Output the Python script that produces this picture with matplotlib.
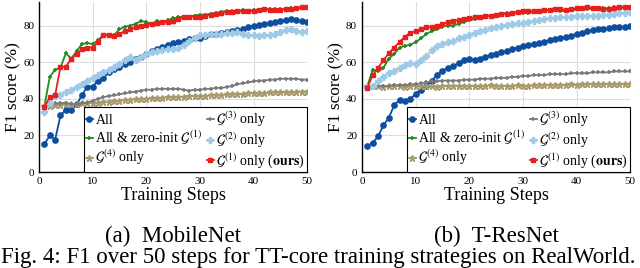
import matplotlib
matplotlib.use("Agg")
import matplotlib.pyplot as plt
import numpy as np

plt.rcParams['font.family'] = ['Liberation Serif', 'DejaVu Serif']
plt.rcParams['mathtext.fontset'] = 'stix'

steps = list(range(1, 51))

# MobileNet
mb_all = [15.2, 20, 17.7, 31, 34, 33.7, 37, 42, 46.7, 46.7, 50, 51.4, 54.5, 56.3, 57.2, 59, 60, 61.7, 63, 64.5,
          66, 67, 68.5, 69.5, 70.5, 71, 71.5, 72.5, 73, 73.5, 74.5, 75.5, 75.5, 76, 76.5, 77, 77.5, 78, 79, 80,
          80.5, 81, 81.5, 82, 82.5, 83, 83.5, 83, 82.5, 82]
mb_zero = [36, 52, 56, 57, 65, 62, 66, 70, 70.5, 70, 72, 75, 75, 75, 78, 79.5, 80, 81, 82.5, 82,
           81, 82.5, 82, 83, 84, 84.5, 85, 85, 85.5, 86, 86, 86.5, 87, 87.5, 88, 88, 88, 88.5, 88, 88.5,
           88.5, 89, 89, 89, 89, 89, 89.5, 89.5, 90, 90]
mb_g4 = [36, 36, 36.5, 36.5, 37, 37, 37, 37.5, 37.5, 38, 38, 38.5, 38.5, 39, 39, 39.5, 39.5, 40, 40, 40,
         40.5, 40.5, 40.5, 41, 41, 41, 41, 41.5, 41.5, 41.5, 41.5, 42, 42, 42, 42.5, 42.5, 42.5, 42.5, 43, 43,
         43, 43, 43.5, 43.5, 43.5, 43.5, 43.5, 44, 44, 44]
mb_g3 = [35.5, 37, 37.5, 37.5, 38, 37, 37, 37.5, 38, 39, 40, 41, 41.5, 42, 42.5, 43, 43.5, 44, 44.5, 45,
         45, 45.5, 45.5, 45.5, 45.5, 45.5, 45, 44.5, 45, 45, 45.5, 45.5, 46, 46, 46.5, 47, 48, 48.5, 49, 49.5,
         50, 50, 50.5, 50.5, 51, 51, 51, 51, 50.5, 50.5]
mb_g2 = [33, 38, 41.5, 42, 44, 45, 46.5, 48, 50, 51.5, 53, 54.5, 56, 57.5, 59, 61, 63, 61.5, 63, 64.5,
         65.5, 66, 66.5, 67, 67.5, 68, 69.5, 71.5, 73.5, 75, 75, 75.5, 75.5, 75.5, 76, 76, 76.5, 75.5, 75, 75,
         74.5, 75, 75, 75.5, 76.5, 77.5, 78, 77, 76.5, 77]
mb_g1 = [35.5, 41, 42, 57.5, 57.5, 62, 64.5, 67, 68, 68, 71, 75, 75, 74.5, 75.5, 77, 78, 79, 80, 80.5,
         81, 81.5, 82, 82, 82.5, 83.5, 84.5, 85, 85, 85, 85.5, 86, 86.5, 87, 87.5, 87.5, 88, 88, 88, 88,
         88.5, 89, 88.5, 88.5, 88.5, 89, 89, 89.5, 90, 90]

# T-ResNet
tr_all = [14.3, 16, 19.5, 25.5, 29.7, 36.4, 39.6, 39, 40, 42.7, 45, 47, 50, 53, 55.4, 57, 58, 59.4, 61, 61.7,
          61.5, 62, 63, 64, 64.5, 65.5, 66, 67, 68, 69, 69.5, 70, 70.5, 71, 72, 72.5, 73, 74, 74.5, 75.5,
          76, 77, 77.5, 78, 78, 78.5, 79, 79, 79.5, 80]
tr_zero = [47, 56, 55, 57, 62, 64.5, 68, 69, 69.5, 71, 73, 75.5, 77, 78, 79.5, 80, 80, 81, 82, 83,
           83.5, 84.5, 85, 85.5, 86, 86.5, 87, 87, 87, 87, 87, 87.5, 87.5, 88, 88.5, 88.5, 88, 88, 88.5, 89,
           89, 89, 89.5, 89.5, 89.5, 89.5, 90, 90, 90, 90]
tr_g4 = [47, 47, 47, 46.5, 47, 47, 47, 46.5, 47, 47, 47, 47, 47, 46.5, 47, 47, 47, 47, 47, 47,
         47, 47, 47, 47.5, 47, 47, 47, 47, 47.5, 47, 47, 47.5, 47.5, 47.5, 47.5, 47.5, 47.5, 47.5, 48, 47.5,
         48, 48, 48, 48, 48, 48, 48, 48, 48, 48]
tr_g3 = [47, 47, 47, 47, 47, 47.5, 47.5, 47.5, 48, 48, 48.5, 49, 49.5, 49.5, 50, 50, 50, 50, 50.5, 50.5,
         50.5, 51, 51, 51, 51.5, 51.5, 51.5, 52, 52, 52.5, 52.5, 53, 53, 53, 53.5, 53.5, 53.5, 53.5, 54, 54,
         54, 54, 54.5, 54.5, 54.5, 54.5, 55, 55, 55, 55]
tr_g2 = [46.5, 47, 50, 52, 54, 55, 57, 58.5, 59.5, 59, 61, 63.5, 66.5, 69, 70, 71, 71.5, 73, 74, 75,
         76, 77, 77.5, 78.5, 79, 80, 80.5, 81, 81.5, 81.5, 82, 82.5, 83, 83.5, 84, 84, 84.5, 85, 85, 85.5,
         85.5, 85.5, 85.5, 85.5, 86, 86, 86.5, 87, 87, 87.5]
tr_g1 = [46, 53, 57, 61, 65, 68, 71, 74, 76, 77, 78, 79, 79.5, 80, 81, 82, 82.5, 83, 83.5, 84,
         84.5, 85, 85.5, 85.5, 86, 86.5, 86.5, 87, 87.5, 88, 88, 88, 88, 88.5, 88.5, 89, 89, 88.5, 89, 89.5,
         89.5, 90, 89.5, 89.5, 89, 89, 89.5, 90, 90, 90]

labels = ["All", r"All & zero-init $\mathcal{G}^{(1)}$", r"$\mathcal{G}^{(4)}$ only",
          r"$\mathcal{G}^{(3)}$ only", r"$\mathcal{G}^{(2)}$ only",
          r"$\mathcal{G}^{(1)}$ only ($\mathbf{ours}$)"]
xticks = [0, 10, 20, 30, 40, 50]
yticks = [0, 20, 40, 60, 80]
subcaptions = ["(a)  MobileNet", "(b)  T-ResNet"]

styles = [
    dict(color="#0d4f9e", marker="o", ms=3.8),
    dict(color="#238b21", marker="+", ms=3, mew=1.2),
    dict(color="#a89a6c", marker="*", ms=5),
    dict(color="#7a7a7a", marker="+", ms=3, mew=1.2),
    dict(color="#9ecae8", marker="P", ms=4.5),
    dict(color="#e8201c", marker="s", ms=3.5),
]

fig = plt.figure(figsize=(6.4, 2.68), dpi=100)
axes_pos = [[0.061, 0.358, 0.419, 0.635], [0.5656, 0.358, 0.419, 0.635]]
datasets = [[mb_all, mb_zero, mb_g4, mb_g3, mb_g2, mb_g1],
            [tr_all, tr_zero, tr_g4, tr_g3, tr_g2, tr_g1]]

for pos, data, cap in zip(axes_pos, datasets, subcaptions):
    ax = fig.add_axes(pos)
    handles = []
    for series, st, lab in zip(data, styles, labels):
        h, = ax.plot(steps, series, lw=1.3, label=lab, **st)
        handles.append(h)
    ax.set_xlim(0, 50)
    ax.set_ylim(0, 93)
    ax.set_xticks(xticks)
    ax.set_yticks(yticks)
    ax.tick_params(labelsize=8, length=0, pad=3.5)
    ax.grid(True, color="#dddddd", lw=0.8)
    ax.set_axisbelow(True)
    for s in ["top", "right"]:
        ax.spines[s].set_visible(False)
    for s in ["left", "bottom"]:
        ax.spines[s].set_color("black")
        ax.spines[s].set_linewidth(1.0)
    ax.set_xlabel("Training Steps", fontsize=13, labelpad=1)
    ax.set_ylabel("F1 score (%)", fontsize=12.5, labelpad=1)
    leg = ax.legend(handles=handles, ncol=2, loc="lower right", fontsize=10,
                    borderaxespad=0, handlelength=0.5, handletextpad=0.2,
                    columnspacing=0.3, labelspacing=0.1, borderpad=0.15,
                    fancybox=False, framealpha=1, edgecolor="black")
    leg.get_frame().set_linewidth(0.8)
    cx = pos[0] + pos[2] / 2
    fig.text(cx, 1 - 236 / 268, cap, ha="center", va="center", fontsize=16.5)

fig.text(0.497, 1 - 257 / 268,
         "Fig. 4: F1 over 50 steps for TT-core training strategies on RealWorld.",
         ha="center", va="center", fontsize=16.5)

fig.savefig("out.png", dpi=100)
